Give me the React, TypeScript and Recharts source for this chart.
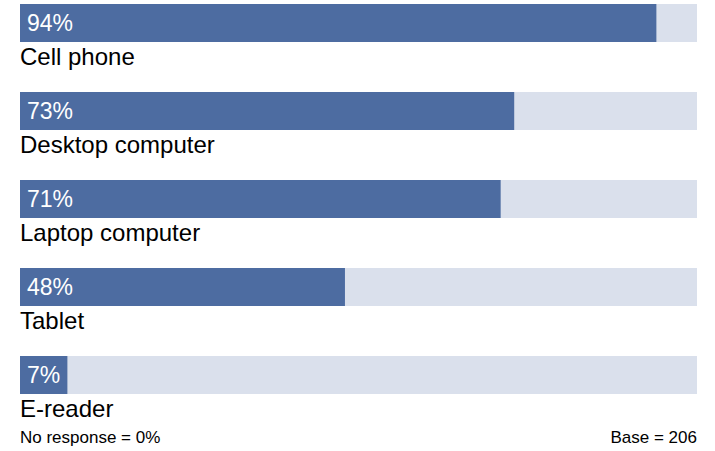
import React from "react";
import { BarChart, Bar, XAxis, YAxis, LabelList } from "recharts";

const categories = ["Cell phone", "Desktop computer", "Laptop computer", "Tablet", "E-reader"];
const values = [94, 73, 71, 48, 7];
const footerLeft = "No response = 0%";
const footerRight = "Base = 206";

const data = categories.map((name, i) => ({ name, value: values[i], spacer: 100 }));

const FONT = "'Liberation Sans', Arial, sans-serif";

const CategoryLabel = (props: any) => {
  const { x, y, index } = props;
  return (
    <text x={x} y={y + 23} fill="#000" fontSize={24} fontFamily={FONT}>
      {categories[index]}
    </text>
  );
};

export default function App() {
  return (
    <div style={{ position: "absolute", left: 0, top: 0, width: 715, height: 451, background: "#fff" }}>
      <BarChart
        width={715}
        height={451}
        data={data}
        layout="vertical"
        margin={{ top: 3, right: 18, bottom: 8, left: 20 }}
        barGap={0}
        barCategoryGap={0}
      >
        <XAxis type="number" domain={[0, 100]} hide />
        <YAxis type="category" dataKey="name" hide />
        <Bar dataKey="value" barSize={38} fill="#4d6ca1" background={{ fill: "#dae0ec" }} isAnimationActive={false}>
          <LabelList
            dataKey="value"
            position="insideLeft"
            offset={7}
            formatter={(v: any) => `${v}%`}
            fill="#fff"
            fontSize={23}
            fontFamily={FONT}
          />
        </Bar>
        <Bar dataKey="spacer" barSize={49} fill="transparent" isAnimationActive={false}>
          <LabelList dataKey="name" content={<CategoryLabel />} />
        </Bar>
      </BarChart>
      <div style={{ position: "absolute", left: 20, top: 428, fontFamily: FONT, fontSize: 17, color: "#000", lineHeight: "20px" }}>
        {footerLeft}
      </div>
      <div style={{ position: "absolute", right: 18, top: 428, fontFamily: FONT, fontSize: 17, color: "#000", lineHeight: "20px" }}>
        {footerRight}
      </div>
    </div>
  );
}
